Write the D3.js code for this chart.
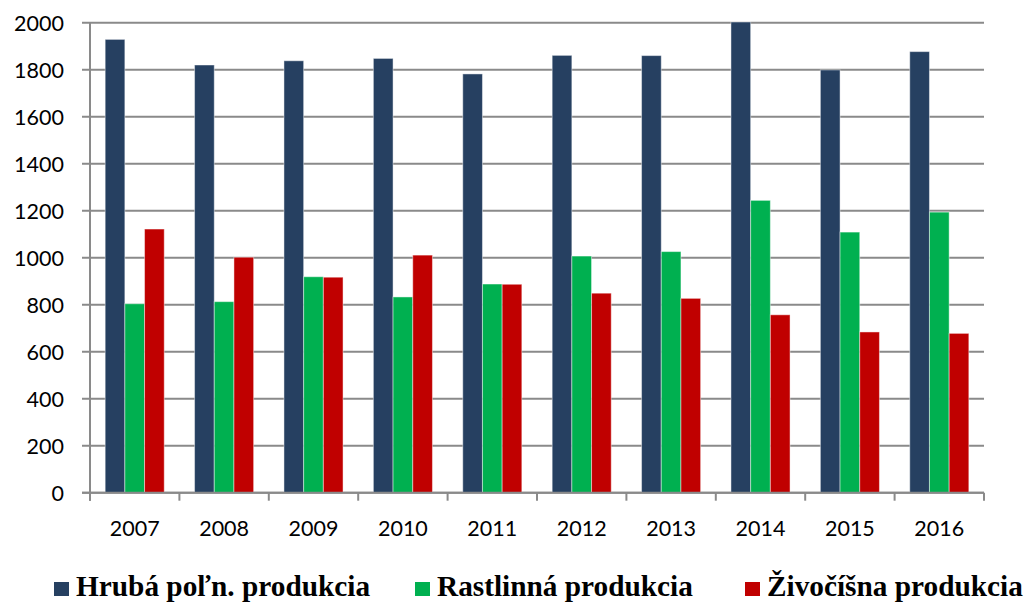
<!DOCTYPE html>
<html><head><meta charset="utf-8">
<script src="https://cdn.jsdelivr.net/npm/d3@7"></script>
<style>body{margin:0;background:#fff}svg{display:block}</style>
</head><body>
<svg id="c" width="1027" height="603"></svg>
<script>
const years = ["2007","2008","2009","2010","2011","2012","2013","2014","2015","2016"];
const hruba = [1929,1820,1838,1848,1782,1861,1860,2003,1799,1877];
const rastlinna = [804,813,919,833,888,1007,1026,1244,1109,1194];
const zivocisna = [1122,1002,917,1011,887,849,827,757,684,678];
const seriesNames = ["Hrubá poľn. produkcia","Rastlinná produkcia","Živočíšna produkcia"];
const seriesColors = ["#264061","#00B050","#C00000"];
const yTicks = [0,200,400,600,800,1000,1200,1400,1600,1800,2000];

const series = [hruba, rastlinna, zivocisna];
const svg = d3.select("#c");
const L = 90, R = 984, T = 22.7, B = 492.7;
const x = d3.scaleBand().domain(years).range([L, R]).paddingInner(0).paddingOuter(0);
const y = d3.scaleLinear().domain([0, 2000]).range([B, T]);
const gridColor = "#8a8a8a";

// gridlines
svg.append("g").selectAll("line").data(yTicks).join("line")
  .attr("x1", L - 8).attr("x2", R)
  .attr("y1", d => y(d)).attr("y2", d => y(d))
  .attr("stroke", gridColor).attr("stroke-width", 2);

// y axis
const yAxis = d3.axisLeft(y).tickValues(yTicks).tickSize(0).tickPadding(26).tickFormat(d3.format("d"));
const gy = svg.append("g").attr("transform", `translate(${L},0)`).call(yAxis);
gy.select(".domain").remove();
gy.selectAll("text").attr("font-family", "Lato, 'Open Sans', sans-serif").attr("font-size", 21.5).attr("fill", "#000").attr("dy", "0.35em");
svg.append("line").attr("x1", L).attr("x2", L).attr("y1", T).attr("y2", B + 8).attr("stroke", gridColor).attr("stroke-width", 2);

// bars
const inner = d3.scaleBand().domain([0,1,2]).range([0, x.bandwidth()]).paddingOuter(0.77).paddingInner(0);
series.forEach((vals, si) => {
  svg.append("g").selectAll("rect").data(vals).join("rect")
    .attr("x", (d, i) => x(years[i]) + inner(si))
    .attr("width", inner.bandwidth())
    .attr("y", d => y(d))
    .attr("height", d => B - y(d))
    .attr("fill", seriesColors[si])
    .attr("stroke", "rgba(255,255,255,0.45)").attr("stroke-width", 1);
});

// x axis
const xAxis = d3.axisBottom(x).tickSize(0).tickPadding(28);
const gx = svg.append("g").attr("transform", `translate(0,${B})`).call(xAxis);
gx.select(".domain").remove();
gx.selectAll("text").attr("font-family", "Lato, 'Open Sans', sans-serif").attr("font-size", 21.5).attr("fill", "#000");
svg.append("line").attr("x1", L - 8).attr("x2", R).attr("y1", B).attr("y2", B).attr("stroke", gridColor).attr("stroke-width", 2);
const bounds = years.map(d => x(d)).concat([R]);
svg.append("g").selectAll("line").data(bounds).join("line")
  .attr("x1", d => d).attr("x2", d => d).attr("y1", B).attr("y2", B + 8)
  .attr("stroke", gridColor).attr("stroke-width", 2);

// legend
const legX = [54, 415, 745];
const lg = svg.append("g");
seriesNames.forEach((n, i) => {
  lg.append("rect").attr("x", legX[i]).attr("y", 582).attr("width", 15).attr("height", 14).attr("fill", seriesColors[i]);
  lg.append("text").attr("x", legX[i] + 22).attr("y", 596)
    .attr("font-family", "'Liberation Serif', 'Times New Roman', serif").attr("font-weight", "bold")
    .attr("font-size", 29.3).attr("fill", "#000").text(n);
});
</script>
</body></html>
